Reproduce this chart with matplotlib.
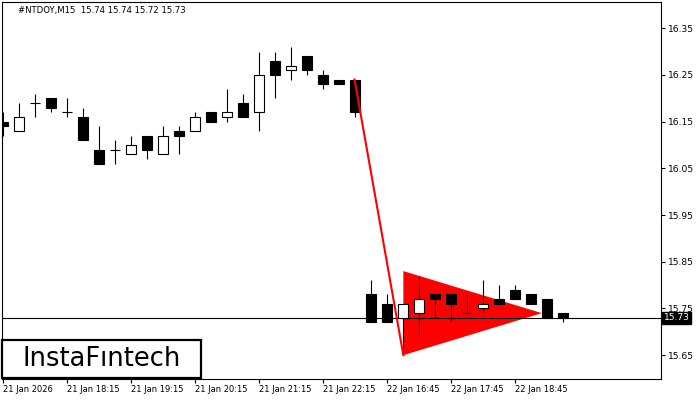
import numpy as np
import matplotlib
matplotlib.use("Agg")
import matplotlib.pyplot as plt
from matplotlib.patches import Rectangle, Polygon

# 15 minute candles, position = bar index on the chart
opens = [16.15, 16.13, 16.19, 16.20, 16.17, 16.16, 16.09, 16.09, 16.08, 16.12,
         16.08, 16.13, 16.13, 16.17, 16.16, 16.19, 16.17, 16.28, 16.26, 16.29,
         16.25, 16.24, 16.24, 15.78, 15.76, 15.73, 15.74, 15.78, 15.78, 15.74,
         15.75, 15.77, 15.79, 15.78, 15.77, 15.74]
highs = [16.17, 16.19, 16.21, 16.20, 16.20, 16.18, 16.14, 16.11, 16.12, 16.12,
         16.14, 16.14, 16.17, 16.17, 16.22, 16.21, 16.30, 16.30, 16.31, 16.29,
         16.26, 16.24, 16.24, 15.81, 15.78, 15.76, 15.82, 15.78, 15.78, 15.78,
         15.81, 15.80, 15.80, 15.78, 15.77, 15.74]
lows = [16.12, 16.13, 16.16, 16.17, 16.16, 16.11, 16.06, 16.06, 16.08, 16.07,
        16.08, 16.08, 16.13, 16.15, 16.15, 16.16, 16.13, 16.20, 16.24, 16.25,
        16.22, 16.23, 16.16, 15.72, 15.72, 15.66, 15.69, 15.73, 15.72, 15.74,
        15.74, 15.76, 15.77, 15.76, 15.73, 15.72]
closes = [16.14, 16.16, 16.19, 16.18, 16.17, 16.11, 16.06, 16.09, 16.10, 16.09,
          16.12, 16.12, 16.16, 16.15, 16.17, 16.16, 16.25, 16.25, 16.27, 16.26,
          16.23, 16.23, 16.17, 15.72, 15.72, 15.76, 15.77, 15.77, 15.76, 15.74,
          15.76, 15.76, 15.77, 15.76, 15.73, 15.73]

tick_pos = [0, 4, 8, 12, 16, 20, 24, 28, 32]
tick_labels = ["21 Jan 2026", "21 Jan 18:15", "21 Jan 19:15", "21 Jan 20:15",
               "21 Jan 21:15", "21 Jan 22:15", "22 Jan 16:45", "22 Jan 17:45",
               "22 Jan 18:45"]
price_ticks = [15.65, 15.75, 15.85, 15.95, 16.05, 16.15, 16.25, 16.35]

last_price = 15.73
# bearish pennant: pole and triangle
pole_x = [21.95, 25.0]
pole_y = [16.24, 15.65]
tri_x = [25.0, 25.0, 33.65]
tri_y = [15.83, 15.65, 15.74]

fig = plt.figure(figsize=(7, 4), dpi=100)
ax = fig.add_axes([2 / 700, 21 / 400, 659 / 700, 377 / 400])

x = np.arange(len(opens))
o = np.array(opens)
c = np.array(closes)

ax.add_patch(Polygon(list(zip(tri_x, tri_y)), closed=True, facecolor="#ff0000",
                     edgecolor="none", zorder=1))
ax.axhline(last_price, color="black", lw=0.8, zorder=2)

ax.vlines(x, lows, highs, color="black", lw=0.8, zorder=3)
doji = o == c
body = ~doji
ax.bar(x[body], np.abs(c - o)[body], bottom=np.minimum(o, c)[body], width=0.62,
       color=np.where(c > o, "white", "black")[body], edgecolor="black",
       linewidth=0.8, zorder=4)
ax.hlines(o[doji], x[doji] - 0.31, x[doji] + 0.31, color="black", lw=0.8, zorder=4)

ax.plot(pole_x, pole_y, color="#ff0000", lw=1.5, zorder=5)

ax.set_xlim(-0.08, 41.1)
ax.set_ylim(15.599, 16.406)

ax.yaxis.tick_right()
ax.set_yticks(price_ticks)
ax.set_yticklabels([f"{p:.2f}" for p in price_ticks])
ax.set_xticks(tick_pos)
ax.set_xticklabels(tick_labels)
for lab in ax.get_xticklabels():
    lab.set_ha("left")
ax.tick_params(axis="both", length=3, width=0.8, labelsize=6.6, pad=2, direction="out")
ax.tick_params(axis="x", pad=1, labelsize=6.0)
for s in ax.spines.values():
    s.set_linewidth(0.8)

ax.text(1.004, last_price, f"{last_price:.2f}", transform=ax.get_yaxis_transform(),
        ha="left", va="center", color="white", fontsize=6.6,
        bbox=dict(boxstyle="square,pad=0.15", fc="black", ec="black"))

fig.text(18 / 700, 1 - 10 / 400, "#NTDOY,M15  15.74 15.74 15.72 15.73",
         fontsize=6.1, va="center", ha="left")

fig.patches.append(Rectangle((2 / 700, 22 / 400), 199 / 700, 38 / 400,
                             transform=fig.transFigure, facecolor="white",
                             edgecolor="black", linewidth=1.6, zorder=10))
fig.text(101.5 / 700, 41 / 400, "InstaF\u0131ntech", fontsize=18.5, ha="center",
         va="center", zorder=11)

fig.savefig("out.png", dpi=100)
